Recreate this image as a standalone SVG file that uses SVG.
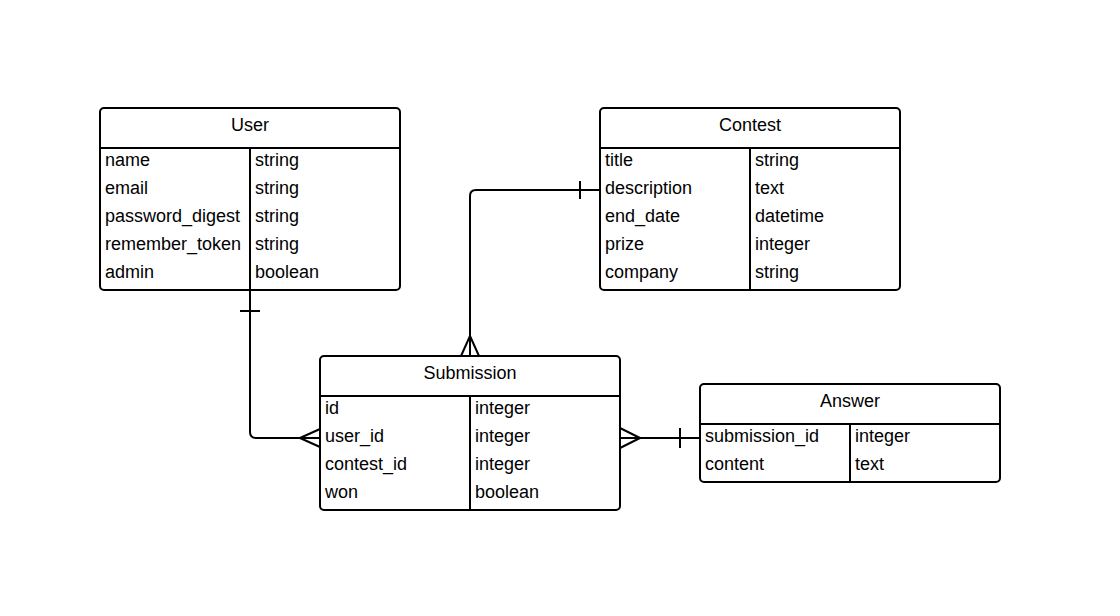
<svg xmlns="http://www.w3.org/2000/svg" width="1120" height="616" viewBox="0 0 1120 616">
<style>
.box{fill:#fff;stroke:#000;stroke-width:2}
.ln{stroke:#000;stroke-width:2;fill:none}
text{font-family:"Liberation Sans",Arial,sans-serif;font-size:18px;fill:#000}
.h{text-anchor:middle}
</style>
<rect width="1120" height="616" fill="#fff"/>
<g id="connectors">
<path class="ln" d="M250,290 V432 Q250,438 256,438 H320"/>
<path class="ln" d="M240,311 H260"/>
<path class="ln" d="M300,438 L320,429 M300,438 L320,447"/>
<path class="ln" d="M600,190 H476 Q470,190 470,196 V356"/>
<path class="ln" d="M580,181 V199"/>
<path class="ln" d="M470,336 L461,356 M470,336 L479,356"/>
<path class="ln" d="M620,438 H700"/>
<path class="ln" d="M640,438 L620,428 M640,438 L620,448"/>
<path class="ln" d="M680,428 V448"/>
</g>
<g id="user">
<rect class="box" x="100" y="108" width="300" height="182" rx="4"/>
<path class="ln" d="M100,148 H400 M250,148 V290"/>
<text class="h" x="250" y="131">User</text>
<text x="105" y="166">name</text><text x="255" y="166">string</text>
<text x="105" y="194">email</text><text x="255" y="194">string</text>
<text x="105" y="222">password_digest</text><text x="255" y="222">string</text>
<text x="105" y="250">remember_token</text><text x="255" y="250">string</text>
<text x="105" y="278">admin</text><text x="255" y="278">boolean</text>
</g>
<g id="contest">
<rect class="box" x="600" y="108" width="300" height="182" rx="4"/>
<path class="ln" d="M600,148 H900 M750,148 V290"/>
<text class="h" x="750" y="131">Contest</text>
<text x="605" y="166">title</text><text x="755" y="166">string</text>
<text x="605" y="194">description</text><text x="755" y="194">text</text>
<text x="605" y="222">end_date</text><text x="755" y="222">datetime</text>
<text x="605" y="250">prize</text><text x="755" y="250">integer</text>
<text x="605" y="278">company</text><text x="755" y="278">string</text>
</g>
<g id="submission">
<rect class="box" x="320" y="356" width="300" height="154" rx="4"/>
<path class="ln" d="M320,396 H620 M470,396 V510"/>
<text class="h" x="470" y="379">Submission</text>
<text x="325" y="414">id</text><text x="475" y="414">integer</text>
<text x="325" y="442">user_id</text><text x="475" y="442">integer</text>
<text x="325" y="470">contest_id</text><text x="475" y="470">integer</text>
<text x="325" y="498">won</text><text x="475" y="498">boolean</text>
</g>
<g id="answer">
<rect class="box" x="700" y="384" width="300" height="98" rx="4"/>
<path class="ln" d="M700,424 H1000 M850,424 V482"/>
<text class="h" x="850" y="407">Answer</text>
<text x="705" y="442">submission_id</text><text x="855" y="442">integer</text>
<text x="705" y="470">content</text><text x="855" y="470">text</text>
</g>
</svg>
